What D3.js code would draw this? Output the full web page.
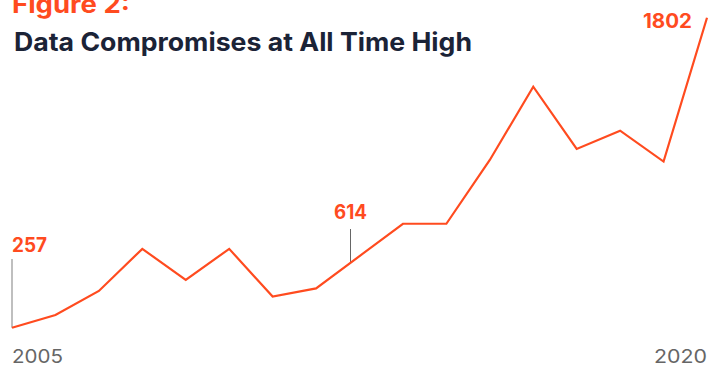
<!DOCTYPE html>
<html><head><meta charset="utf-8">
<script src="https://cdn.jsdelivr.net/npm/d3@7"></script>
<style>
html,body{margin:0;padding:0;background:#fff;}
svg{display:block;font-family:Inter, "DejaVu Sans", sans-serif;}
</style></head>
<body>
<svg id="c" width="721" height="367"></svg>
<script>
const years = [2005,2006,2007,2008,2009,2010,2011,2012,2013,2014,2015,2016,2017,2018,2019,2020,2021];
const values = [257,320,440,650,495,650,412,453,614,775,775,1093,1458,1148,1239,1085,1802];
const axisLabels = ["2005","2020"];
const annotations = [{year:2005, value:257, text:"257"},{year:2013, value:614, text:"614"},{year:2021, value:1802, text:"1802"}];

const ORANGE = "#FF4B1F";
const svg = d3.select("#c");
const x = d3.scaleLinear().domain([2005,2021]).range([12,707]);
const y = d3.scaleLinear().domain([257,1802]).range([327.7,17.7]);

function txt(t, xx, yy, opts){
  const s = svg.append("text").attr("x",xx).attr("y",yy)
    .attr("text-anchor",opts.anchor||"start").attr("fill",opts.fill)
    .attr("font-size",opts.size).attr("font-weight",opts.weight||400).text(t);
  if (opts.len) s.attr("textLength",opts.len).attr("lengthAdjust","spacingAndGlyphs");
  return s;
}

// titles
txt("Figure 2:", 12, 13, {fill:ORANGE, size:25, weight:700, len:118});
txt("Data Compromises at All Time High", 14, 51, {fill:"#1B2337", size:25.5, weight:700, len:458});

// annotation connectors
svg.append("line").attr("x1",x(2005)).attr("x2",x(2005)).attr("y1",259).attr("y2",y(257))
  .attr("stroke","#aaa").attr("stroke-width",1.5);
const a614x = x(2013) - 9;
const a614y = y(values[7]) + (y(values[9]) - y(values[7])) * (a614x - x(2012)) / (x(2014) - x(2012));
svg.append("line").attr("x1",a614x).attr("x2",a614x).attr("y1",229).attr("y2",a614y)
  .attr("stroke","#666").attr("stroke-width",1);

// line
const line = d3.line().x((d,i)=>x(years[i])).y(d=>y(d));
svg.append("path").datum(values).attr("d",line).attr("fill","none")
  .attr("stroke",ORANGE).attr("stroke-width",2.2).attr("stroke-linejoin","miter");

// value labels
txt(annotations[0].text, x(2005), 251.5, {fill:ORANGE, size:19.5, weight:700, len:35});
txt(annotations[1].text, a614x, 218.5, {fill:ORANGE, size:19.5, weight:700, anchor:"middle", len:33});
txt(annotations[2].text, x(2021)-15, 27.5, {fill:ORANGE, size:19.5, weight:700, anchor:"end", len:49});

// axis labels
txt(axisLabels[0], x(2005), 362.5, {fill:"#666", size:19, len:51});
txt(axisLabels[1], x(2021), 362.5, {fill:"#666", size:19, anchor:"end", len:53});
</script>
</body></html>
